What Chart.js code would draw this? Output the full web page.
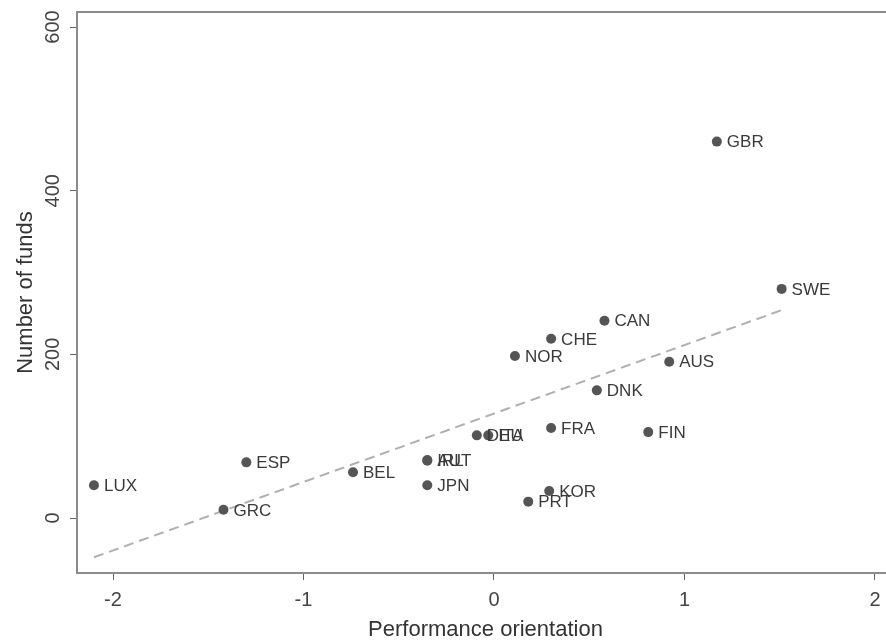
<!DOCTYPE html>
<html>
<head>
<meta charset="utf-8">
<script src="https://cdn.jsdelivr.net/npm/chart.js@4/dist/chart.umd.min.js"></script>
<style>
    html, body { margin: 0; padding: 0; background: #fff; overflow: hidden; }
    #wrap { width: 900px; height: 641px; }
</style>
</head>
<body>
<div id="wrap"><canvas id="scatterChart" width="900" height="641"></canvas></div>
<script>
// Data
const countries = ['LUX','GRC','ESP','BEL','AUT','IRL','JPN','DEU','ITA','NOR','CHE','CAN','GBR','SWE','AUS','DNK','FRA','FIN','KOR','PRT'];
const perfOrientation = [-2.10,-1.42,-1.30,-0.74,-0.35,-0.35,-0.35,-0.09,-0.03,0.11,0.30,0.58,1.17,1.51,0.92,0.54,0.30,0.81,0.29,0.18];
const numFunds = [40,10,68,56,71,70,40,101,101,198,219,241,460,280,191,156,110,105,33,20];

// Fitted line end points
const fitX = [-2.10, 1.51];
const fitY = [-48, 254];

const xTicks = [-2, -1, 0, 1, 2];
const yTicks = [0, 200, 400, 600];

const FONT = 'Liberation Sans, Arial, sans-serif';

// Helper: draw frame round the plot area
const framePlugin = {
    id: 'frame',
    beforeDatasetsDraw(chart) {
        const a = chart.chartArea;
        const ctx = chart.ctx;
        ctx.save();
        ctx.strokeStyle = '#8c8c8c';
        ctx.lineWidth = 2;
        ctx.strokeRect(a.left, a.top, a.right - a.left, a.bottom - a.top);
        ctx.restore();
    }
};

// Helper: country labels right of each point
const labelPlugin = {
    id: 'pointLabels',
    afterDatasetsDraw(chart) {
        const meta = chart.getDatasetMeta(0);
        const ctx = chart.ctx;
        ctx.save();
        ctx.font = '17px ' + FONT;
        ctx.fillStyle = '#3a3a3a';
        ctx.textAlign = 'left';
        ctx.textBaseline = 'middle';
        meta.data.forEach((el, i) => {
            ctx.fillText(countries[i], el.x + 10, el.y + 1);
        });
        ctx.restore();
    }
};

const ctx = document.getElementById('scatterChart').getContext('2d');
new Chart(ctx, {
    type: 'scatter',
    data: {
        datasets: [{
            data: perfOrientation.map((x, i) => ({x: x, y: numFunds[i]})),
            backgroundColor: '#555555',
            borderWidth: 0,
            pointRadius: 5
        }, {
            type: 'line',
            data: fitX.map((x, i) => ({x: x, y: fitY[i]})),
            borderColor: '#b0b0b0',
            borderWidth: 2,
            borderDash: [10, 6],
            pointRadius: 0,
            fill: false
        }]
    },
    options: {
        responsive: false,
        animation: false,
        layout: { padding: { top: 12, right: 6, left: 0, bottom: 0 } },
        plugins: { legend: { display: false }, tooltip: { enabled: false } },
        scales: {
            x: {
                type: 'linear',
                min: -2.189, max: 2.1,
                afterBuildTicks: s => { s.ticks = xTicks.map(v => ({value: v})); },
                afterFit: s => { s.height = 68; },
                grid: { drawOnChartArea: false, drawTicks: true, tickLength: 7, color: '#666' },
                border: { display: false },
                ticks: { color: '#444', font: { size: 20, family: FONT }, padding: 8, maxRotation: 0 },
                title: {
                    display: true, text: 'Performance orientation', color: '#333',
                    font: { size: 22, family: FONT, lineHeight: 1.0 }, padding: { top: 0, bottom: 0 }
                }
            },
            y: {
                type: 'linear',
                min: -67.2, max: 618.4,
                afterBuildTicks: s => { s.ticks = yTicks.map(v => ({value: v})); },
                afterFit: s => { s.width = 77; },
                grid: { drawOnChartArea: false, drawTicks: true, tickLength: 7, color: '#666' },
                border: { display: false },
                ticks: {
                    color: '#444', font: { size: 20, family: FONT }, padding: 0,
                    minRotation: 90, maxRotation: 90, crossAlign: 'center'
                },
                title: {
                    display: true, text: 'Number of funds', color: '#333',
                    font: { size: 22, family: FONT, lineHeight: 1.2 }, padding: { top: 13, bottom: 0 }
                }
            }
        }
    },
    plugins: [framePlugin, labelPlugin]
});
</script>
</body>
</html>
